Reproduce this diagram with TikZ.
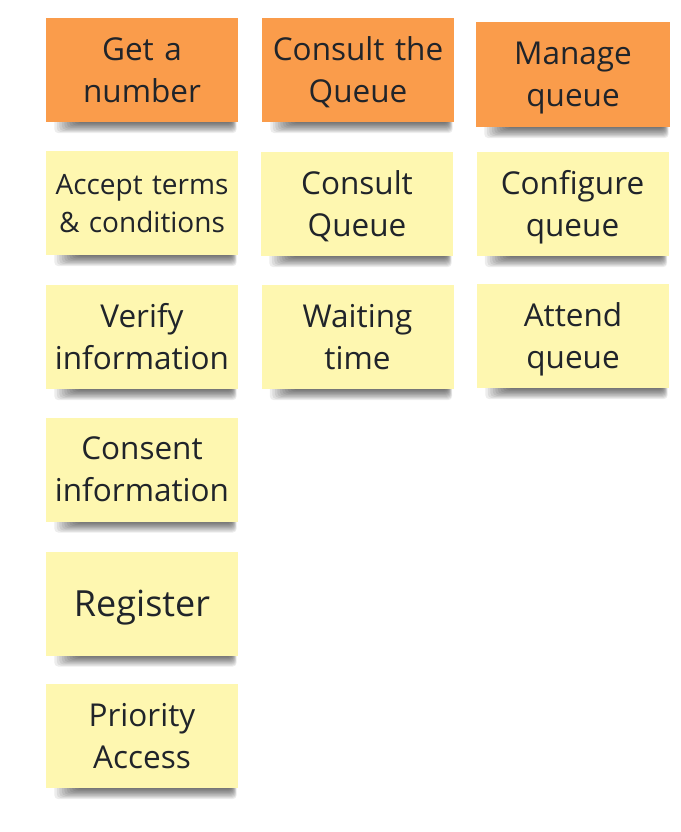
\documentclass[tikz,border=0pt]{standalone}
\usepackage{fontspec}
\setmainfont{Open Sans}
\usepackage{tikz}
\usetikzlibrary{backgrounds}

\begin{document}
\begin{tikzpicture}[x=1pt,y=-1pt]
\definecolor{stickyorange}{RGB}{250,156,75};
\definecolor{stickyyellow}{RGB}{254,247,176};
\definecolor{inkgrey}{RGB}{32,36,42};
\useasboundingbox (0,0) rectangle (680,832);
\tikzstyle{note}=[draw=none,
                  shape=rectangle,
                  inner sep=0pt,
                  minimum width=192pt,
                  minimum height=104pt,
                  text width=188pt,
                  align=center,
                  text=inkgrey,
                  text height=22.5pt,
                  text depth=42pt,
                  font=\fontsize{31.5}{42}\selectfont];
\tikzstyle{orangenote}=[note, fill=stickyorange];
\tikzstyle{yellownote}=[note, fill=stickyyellow];

\node [orangenote] (getnum) at (142,70) {Get a\\number};
\node [orangenote] (consultthe) at (358,70) {Consult the\\Queue};
\node [orangenote, minimum width=194pt, minimum height=105pt] (manageq) at (573,74.5) {Manage\\queue};

\node [yellownote, font=\fontsize{28}{38}\selectfont, text height=20pt, text depth=38pt] (accept) at (142,203) {Accept terms\\\& conditions};
\node [yellownote] (consultq) at (357,204) {Consult\\Queue};
\node [yellownote] (configq) at (572.5,204) {Configure\\queue};

\node [yellownote] (verify) at (142,337) {Verify\\information};
\node [yellownote] (waiting) at (357.5,337) {Waiting\\time};
\node [yellownote] (attend) at (573,336) {Attend\\queue};

\node [yellownote] (consent) at (142,469.5) {Consent\\information};
\node [yellownote, font=\fontsize{36}{42}\selectfont, text height=25.5pt, text depth=0pt] (register) at (142,603.5) {Register};
\node [yellownote] (priority) at (142,736) {Priority\\Access};

\begin{scope}[on background layer]
\fill [white] (0,0) rectangle (680,832);
\foreach \n in {getnum,consultthe,manageq,accept,consultq,configq,verify,waiting,attend,consent,register,priority} {
	\foreach \k in {1,...,10} {
		\fill [black, opacity=0.07, rounded corners=4pt]
			([xshift={6pt+2.5pt*\k},yshift=6pt]\n.south west) rectangle
			([xshift={-1pt-0.5pt*\k},yshift={-12pt+1.1pt*\k}]\n.south east);
	}
}
\end{scope}

\end{tikzpicture}
\end{document}
